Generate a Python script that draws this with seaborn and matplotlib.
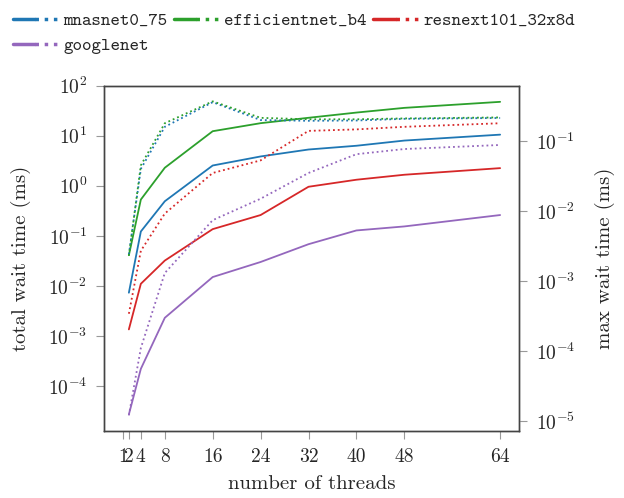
import matplotlib
matplotlib.use("Agg")
import matplotlib.pyplot as plt
from matplotlib.lines import Line2D
from matplotlib.legend_handler import HandlerTuple
import seaborn as sns
import pandas as pd

# threads used for every run (1 thread has zero wait, so nothing is drawn there)
threads = [2, 4, 8, 16, 24, 32, 40, 48, 64]
xticks = [1, 2, 4, 8, 16, 24, 32, 40, 48, 64]

models = ["mnasnet0_75", "efficientnet_b4", "resnext101_32x8d", "googlenet"]
colors = ["#1f77b4", "#2ca02c", "#d62728", "#9467bd"]

# total wait time (ms), left axis, solid
total_mnasnet = [0.0073, 0.122, 0.49, 2.54, 3.85, 5.3, 6.3, 8.0, 10.5]
total_efficientnet = [0.041, 0.53, 2.29, 12.3, 17.8, 22.8, 29.0, 36.0, 47.5]
total_resnext = [0.00135, 0.011, 0.032, 0.136, 0.26, 0.955, 1.32, 1.66, 2.25]
total_googlenet = [2.7e-5, 2.2e-4, 0.0023, 0.015, 0.030, 0.068, 0.128, 0.154, 0.26]

# max wait time (ms), right axis, dotted
max_mnasnet = [0.0024, 0.040, 0.16, 0.36, 0.20, 0.195, 0.197, 0.208, 0.214]
max_efficientnet = [0.0023, 0.045, 0.18, 0.37, 0.215, 0.205, 0.205, 0.211, 0.218]
max_resnext = [3.4e-4, 0.0027, 0.0092, 0.035, 0.053, 0.14, 0.147, 0.16, 0.18]
max_googlenet = [1.2e-5, 1.1e-4, 0.0013, 0.0074, 0.015, 0.035, 0.065, 0.077, 0.088]

totals = [total_mnasnet, total_efficientnet, total_resnext, total_googlenet]
maxes = [max_mnasnet, max_efficientnet, max_resnext, max_googlenet]

rows = []
for m, tot, mx in zip(models, totals, maxes):
    for t, a, b in zip(threads, tot, mx):
        rows.append({"model": m, "threads": t, "total": a, "max": b})
df = pd.DataFrame(rows)

sns.set_style("ticks")
plt.rcParams["font.family"] = ["cmr10"]
plt.rcParams["mathtext.fontset"] = "cm"
plt.rcParams["axes.formatter.use_mathtext"] = True
plt.rcParams["axes.unicode_minus"] = False

palette = dict(zip(models, colors))

fig = plt.figure(figsize=(6.24, 4.98), dpi=100)
ax = fig.add_axes([0.1667, 0.1345, 0.665, 0.6935])
ax2 = ax.twinx()

sns.lineplot(data=df, x="threads", y="total", hue="model", palette=palette,
             hue_order=models, ax=ax, legend=False, linewidth=1.3)
sns.lineplot(data=df, x="threads", y="max", hue="model", palette=palette,
             hue_order=models, ax=ax2, legend=False, linewidth=1.3,
             linestyle=":")

ax.set_yscale("log")
ax2.set_yscale("log")
ax.set_ylim(10 ** -4.9, 100)
ax.set_xlim(-2.15, 67.15)
ax.set_xticks(xticks)
ax.set_xticklabels([str(t) for t in xticks])
for a in (ax, ax2):
    a.minorticks_off()
    a.tick_params(direction="out", length=6, width=0.8, color="#999999",
                  labelsize=14, pad=6)
    for s in a.spines.values():
        s.set_visible(True)
        s.set_color("#444444")
        s.set_linewidth(1.0)

ax.set_xlabel("number of threads", fontsize=15, labelpad=7)
ax.set_ylabel("total wait time (ms)", fontsize=15, labelpad=12)
ax2.set_ylabel("max wait time (ms)", fontsize=15, labelpad=14)

handles = []
for c in colors:
    solid = Line2D([], [], color=c, lw=2.5, ls="-")
    dotted = Line2D([], [], color=c, lw=2.5, ls=":")
    handles.append((solid, dotted))
# reorder so the legend reads row by row
order = [0, 3, 1, 2]
fig.legend([handles[i] for i in order], [models[i] for i in order],
           handler_map={tuple: HandlerTuple(ndivide=None, pad=0)},
           loc="upper left", bbox_to_anchor=(0.0, 1.0), ncol=3,
           frameon=False, handlelength=2.5, handletextpad=0.3,
           columnspacing=0.35, labelspacing=0.45, borderaxespad=0.3,
           prop={"family": ["cmtt10", "DejaVu Sans Mono"], "size": 13})

fig.savefig("out.png", dpi=100, facecolor="white")
